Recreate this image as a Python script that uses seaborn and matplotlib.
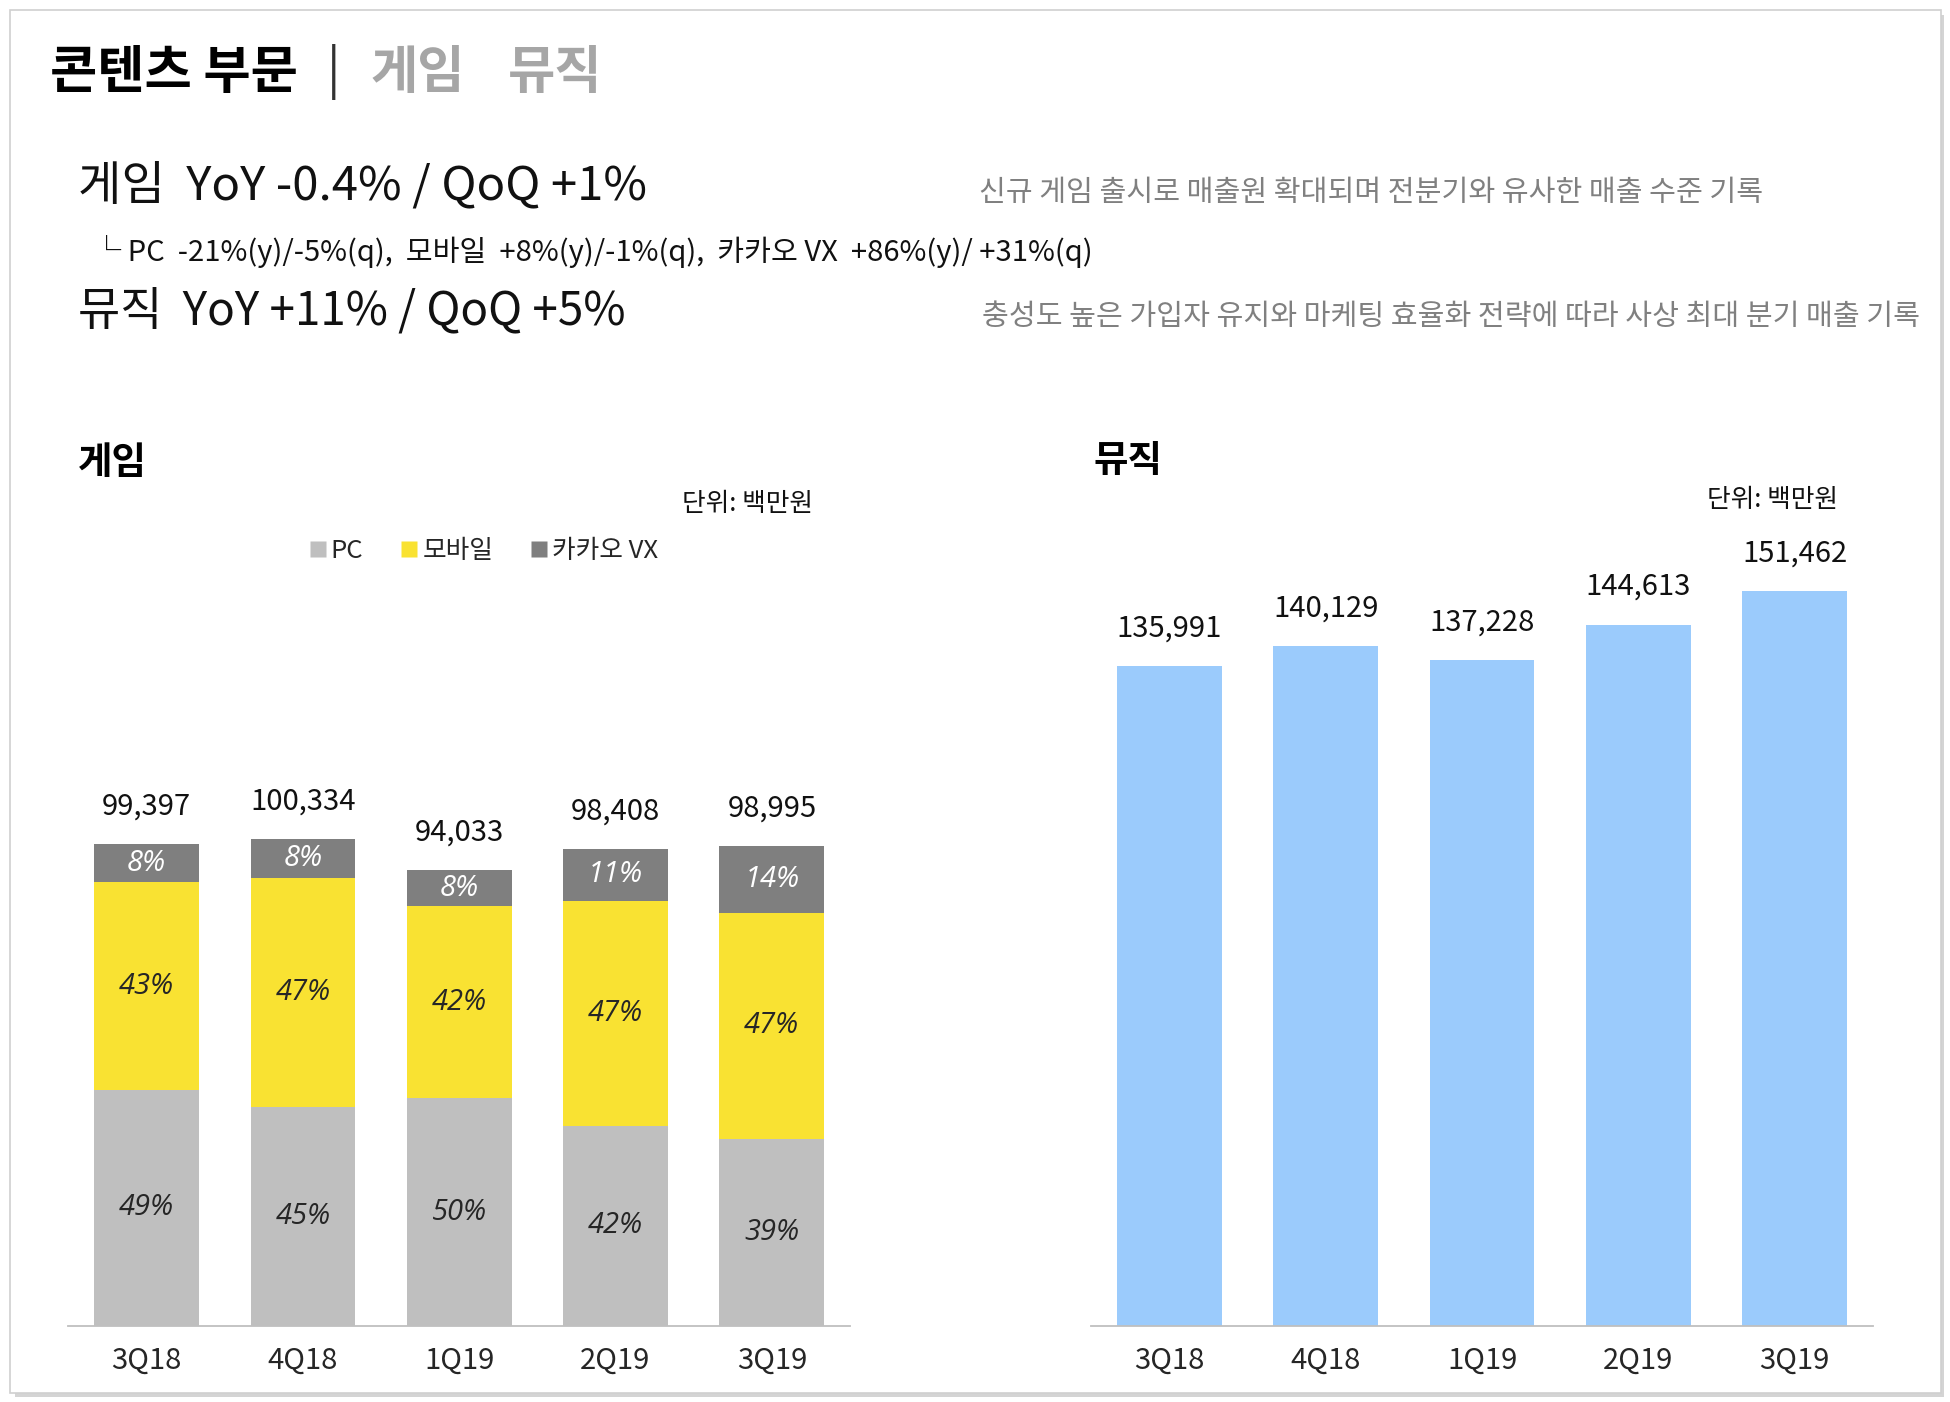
import matplotlib
matplotlib.use("Agg")
import matplotlib.pyplot as plt
from matplotlib.patches import Rectangle
from matplotlib.lines import Line2D
import seaborn as sns
import pandas as pd

# data
quarters = ["3Q18", "4Q18", "1Q19", "2Q19", "3Q19"]
game_total = [99397, 100334, 94033, 98408, 98995]
pc_share = [49, 45, 50, 42, 39]
mobile_share = [43, 47, 42, 47, 47]
vx_share = [8, 8, 8, 11, 14]
music_total = [135991, 140129, 137228, 144613, 151462]

PC_COLOR = "#BFBFBF"
MOBILE_COLOR = "#F9E232"
VX_COLOR = "#7F7F7F"
MUSIC_COLOR = "#9BCBFC"
AXIS_COLOR = "#BFBFBF"

sns.set_style("white")
plt.rcParams["font.family"] = ["Noto Sans CJK KR", "DejaVu Sans"]

game = pd.DataFrame({"quarter": quarters, "total": game_total,
                     "pc": pc_share, "mobile": mobile_share, "vx": vx_share})
game["pc_val"] = game["total"] * game["pc"] / 100
game["mobile_val"] = game["total"] * game["mobile"] / 100
game["vx_val"] = game["total"] * game["vx"] / 100
game["top_pc"] = game["pc_val"]
game["top_mobile"] = game["pc_val"] + game["mobile_val"]
game["top_vx"] = game["top_mobile"] + game["vx_val"]
music = pd.DataFrame({"quarter": quarters, "total": music_total})

fig = plt.figure(figsize=(19.5, 14.02), dpi=100)

# slide frame with a soft shadow
fig.patches.append(Rectangle((0.0075, 0.0035), 0.9895, 0.986, transform=fig.transFigure,
                             facecolor="#d4d4d4", edgecolor="none", zorder=-3))
fig.patches.append(Rectangle((0.005, 0.0064), 0.9904, 0.9865, transform=fig.transFigure,
                             facecolor="white", edgecolor="#d0d0d0", lw=1.2, zorder=-2))

YMAX = 160000
ax_g = fig.add_axes([0.0351, 0.0541, 0.4008, 0.5537])
ax_m = fig.add_axes([0.5597, 0.0541, 0.4007, 0.5537])


def style_axis(ax):
    ax.set_facecolor("none")
    ax.set_ylim(0, YMAX)
    ax.set_xlim(-0.5, len(quarters) - 0.5)
    for side in ["left", "right", "top"]:
        ax.spines[side].set_visible(False)
    ax.spines["bottom"].set_color(AXIS_COLOR)
    ax.spines["bottom"].set_linewidth(1.3)
    ax.set_yticks([])
    ax.set_xticks(range(len(quarters)))
    ax.set_xticklabels(quarters, fontsize=21, color="#262626")
    ax.set_xticks([i - 0.5 for i in range(len(quarters) + 1)], minor=True)
    ax.tick_params(axis="x", which="major", length=0, pad=14)
    ax.tick_params(axis="x", which="minor", length=9, width=1.3, color=AXIS_COLOR, direction="out")
    ax.set_xlabel("")
    ax.set_ylabel("")


# stacked game bars: draw cumulative heights from tallest to shortest
for col, color in [("top_vx", VX_COLOR), ("top_mobile", MOBILE_COLOR), ("top_pc", PC_COLOR)]:
    sns.barplot(data=game, x="quarter", y=col, order=quarters, color=color, saturation=1,
                width=0.67, errorbar=None, edgecolor="none", linewidth=0, ax=ax_g)
style_axis(ax_g)

pct_font = dict(family=["Open Sans", "DejaVu Sans"], style="italic", fontsize=21)
for i, row in game.iterrows():
    ax_g.text(i, row["pc_val"] / 2, f"{row['pc']}%", ha="center", va="center",
              color="#262626", **pct_font)
    ax_g.text(i, row["top_pc"] + row["mobile_val"] / 2, f"{row['mobile']}%", ha="center",
              va="center", color="#262626", **pct_font)
    ax_g.text(i, row["top_mobile"] + row["vx_val"] / 2, f"{row['vx']}%", ha="center",
              va="center", color="white", **pct_font)
    ax_g.annotate(f"{row['total']:,}", (i, row["total"]), xytext=(0, 27),
                  textcoords="offset points", ha="center", va="center",
                  fontsize=21, color="#111111")

sns.barplot(data=music, x="quarter", y="total", order=quarters, color=MUSIC_COLOR,
            saturation=1, width=0.67, errorbar=None, edgecolor="none", linewidth=0, ax=ax_m)
style_axis(ax_m)
for i, row in music.iterrows():
    ax_m.annotate(f"{row['total']:,}", (i, row["total"]), xytext=(0, 27),
                  textcoords="offset points", ha="center", va="center",
                  fontsize=21, color="#111111")

# header texts
fig.text(0.0255, 0.9485, "콘텐츠 부문", fontsize=37, fontweight="heavy", color="black",
         ha="left", va="center")
fig.text(0.171, 0.9485, "|", fontsize=36, fontweight="light", color="#333333",
         ha="center", va="center")
fig.text(0.190, 0.9485, "게임", fontsize=37, fontweight="heavy", color="#A6A6A6",
         ha="left", va="center")
fig.text(0.2604, 0.9485, "뮤직", fontsize=37, fontweight="heavy", color="#A6A6A6",
         ha="left", va="center")

fig.text(0.0402, 0.8669, "게임  YoY -0.4% / QoQ +1%", fontsize=34, fontweight="light",
         color="#111111", ha="left", va="center")
fig.text(0.047, 0.8208,
         "└ PC  -21%(y)/-5%(q),  모바일  +8%(y)/-1%(q),  카카오 VX  +86%(y)/ +31%(q)",
         fontsize=21, fontweight="light", color="#111111", ha="left", va="center")
fig.text(0.0402, 0.7782, "뮤직  YoY +11% / QoQ +5%", fontsize=33, fontweight="light",
         color="#111111", ha="left", va="center")

fig.text(0.5022, 0.8625, "신규 게임 출시로 매출원 확대되며 전분기와 유사한 매출 수준 기록",
         fontsize=21, fontweight="light", color="#808080", ha="left", va="center")
fig.text(0.5035, 0.7737, "충성도 높은 가입자 유지와 마케팅 효율화 전략에 따라 사상 최대 분기 매출 기록",
         fontsize=21, fontweight="light", color="#808080", ha="left", va="center")

fig.text(0.0402, 0.6699, "게임", fontsize=27, fontweight="heavy", color="black",
         ha="left", va="center")
fig.text(0.561, 0.6717, "뮤직", fontsize=27, fontweight="heavy", color="black",
         ha="left", va="center")
fig.text(0.4167, 0.6406, "단위: 백만원", fontsize=18.5, color="#111111", ha="right", va="center")
fig.text(0.9426, 0.6433, "단위: 백만원", fontsize=18.5, color="#111111", ha="right", va="center")

handles = [Line2D([], [], marker="s", linestyle="none", markersize=12, color=c,
                  markeredgecolor="none", label=l)
           for c, l in [(PC_COLOR, "PC"), (MOBILE_COLOR, "모바일"), (VX_COLOR, "카카오 VX")]]
fig.legend(handles=handles, loc="center", bbox_to_anchor=(0.2476, 0.6069), ncol=3,
           frameon=False, fontsize=18.5, handletextpad=0.1, columnspacing=1.4,
           handlelength=0.8)

fig.savefig("out.png", dpi=100)
